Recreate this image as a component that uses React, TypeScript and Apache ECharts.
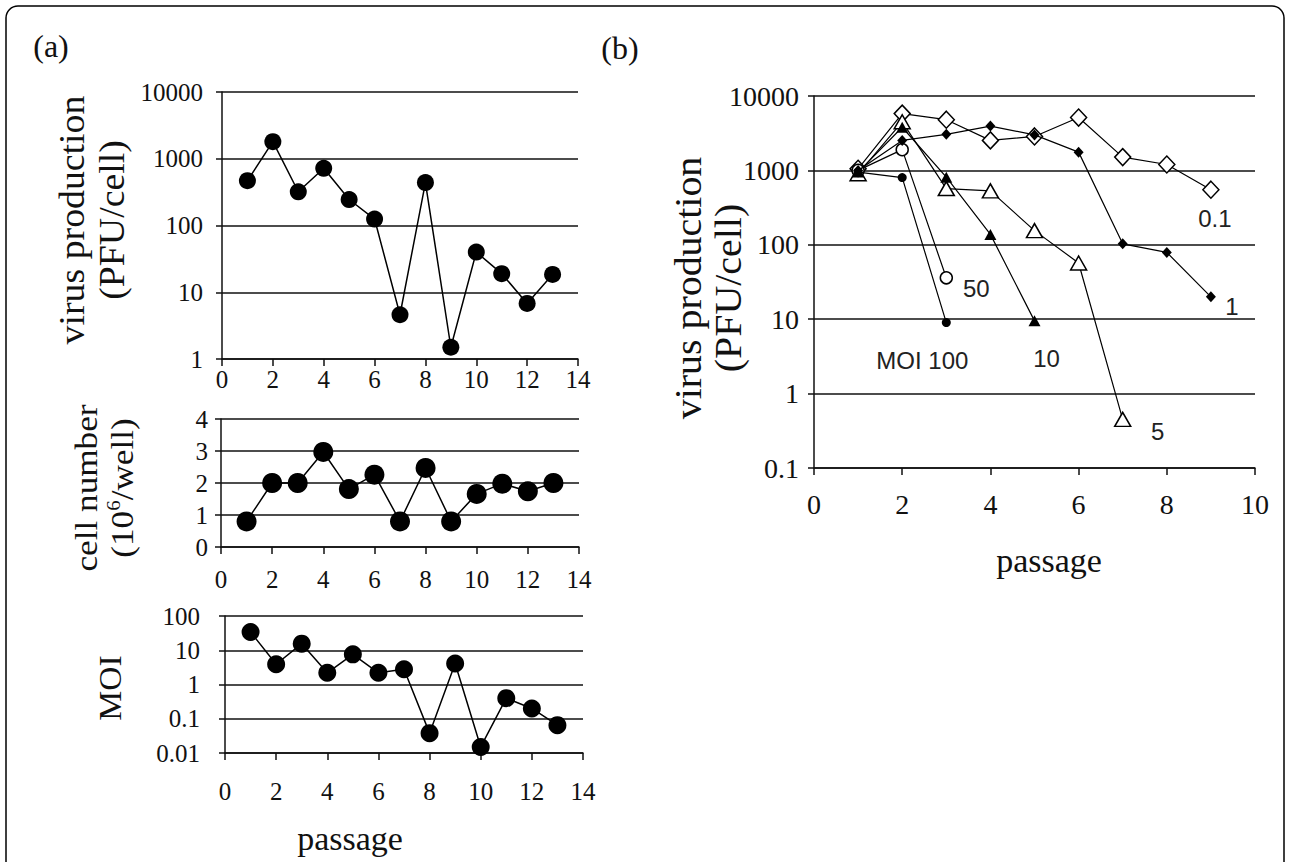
import React, { useEffect, useRef } from "react";
import * as echarts from "echarts";

// ---- Panel (a) data ----
const passageA = [1, 2, 3, 4, 5, 6, 7, 8, 9, 10, 11, 12, 13];
const virusA = [470, 1800, 320, 720, 245, 125, 4.6, 440, 1.5, 40, 19, 6.8, 18.5];
const cellA = [0.8, 2.0, 2.0, 2.97, 1.81, 2.26, 0.8, 2.47, 0.8, 1.66, 1.98, 1.74, 2.0];
const moiA = [34, 3.9, 15.6, 2.2, 7.6, 2.2, 2.8, 0.038, 4.1, 0.015, 0.4, 0.2, 0.065];

// ---- Panel (b) data ----
const passageB = [1, 2, 3, 4, 5, 6, 7, 8, 9];
const moi01 = [1050, 5800, 4800, 2530, 2860, 5130, 1510, 1200, 550];
const moi1 = [1000, 2530, 3050, 3940, 3000, 1760, 103, 79, 20];
const moi5 = [900, 4500, 570, 530, 155, 57, 0.45];
const moi10 = [950, 3800, 810, 138, 9.5];
const moi50 = [1000, 1900, 36];
const moi100 = [950, 800, 9];

const ticksA = ["0", "2", "4", "6", "8", "10", "12", "14"];
const ticksB = ["0", "2", "4", "6", "8", "10"];

const SERIF = "'Liberation Serif', 'Times New Roman', serif";
const SANS = "'Liberation Sans', Arial, sans-serif";
const INK = "#111";

function fmt(v: number) {
  return String(Number(v.toPrecision(6)));
}

function xAxisA(gridIndex: number, margin: number, ticks: string[], max: number, fontSize: number) {
  return {
    type: "value",
    gridIndex,
    min: 0,
    max,
    interval: 2,
    axisLine: { show: true, lineStyle: { color: INK, width: 1.5 } },
    axisTick: { show: true, length: 7, lineStyle: { color: INK, width: 1.5 } },
    axisLabel: {
      margin,
      color: INK,
      fontFamily: SERIF,
      fontSize,
      formatter: (v: number) => ticks[Math.round(v / 2)] ?? "",
    },
    splitLine: { show: false },
  };
}

function yAxisCfg(gridIndex: number, type: string, min: number, max: number, margin: number, fontSize: number, interval?: number) {
  const a: any = {
    type,
    gridIndex,
    min,
    max,
    axisLine: { show: true, lineStyle: { color: INK, width: 1.5 } },
    axisTick: { show: true, length: 6, lineStyle: { color: INK, width: 1.5 } },
    minorTick: { show: false },
    axisLabel: { margin, color: INK, fontFamily: SERIF, fontSize, formatter: fmt },
    splitLine: { show: true, lineStyle: { color: INK, width: 1.5 } },
  };
  if (type === "log") a.logBase = 10;
  if (interval !== undefined) a.interval = interval;
  return a;
}

function pairs(xs: number[], ys: number[]) {
  return ys.map((y, i) => [xs[i], y]);
}

function lastLabeled(xs: number[], ys: number[], text: string, offset: number[]) {
  const d: any[] = pairs(xs, ys);
  const last = d.length - 1;
  d[last] = {
    value: d[last],
    label: {
      show: true,
      formatter: text,
      position: "inside",
      offset,
      align: "center",
      verticalAlign: "middle",
      color: "#222",
      fontFamily: SANS,
      fontSize: 24,
    },
  };
  return d;
}

function rotText(x: number, y: number, text: string, size: number, lineHeight: number, stretch: number, rich?: any) {
  const style: any = {
    text,
    font: `${size}px ${SERIF}`,
    lineHeight,
    fill: INK,
    textAlign: "center",
    textVerticalAlign: "middle",
  };
  if (rich) style.rich = rich;
  return { type: "text", x, y, rotation: Math.PI / 2, scaleX: stretch, scaleY: 1, style };
}

export default function App() {
  const ref = useRef<HTMLDivElement>(null);

  useEffect(() => {
    if (!ref.current) return;
    const chart = echarts.init(ref.current, undefined, { renderer: "svg" });

    const filledA = (size: number) => ({
      symbol: "circle",
      symbolSize: size,
      itemStyle: { color: "#000" },
      lineStyle: { color: "#000", width: 1.5 },
    });

    const open = { color: "#fff", borderColor: "#000", borderWidth: 1.5 };
    const filled = { color: "#000", borderColor: "#000", borderWidth: 0 };
    const lineB = { color: "#000", width: 1.2 };

    const option: any = {
      animation: false,
      backgroundColor: "#fff",
      grid: [
        { left: 222, top: 92, width: 356, height: 267 },
        { left: 221, top: 419, width: 358, height: 128 },
        { left: 225, top: 616, width: 358, height: 137 },
        { left: 814, top: 96, width: 441, height: 372 },
      ],
      xAxis: [
        xAxisA(0, 8, ticksA, 14, 25),
        xAxisA(1, 20, ticksA, 14, 25),
        xAxisA(2, 26, ticksA, 14, 25),
        xAxisA(3, 22, ticksB, 10, 28),
      ],
      yAxis: [
        yAxisCfg(0, "log", 1, 10000, 19, 25),
        yAxisCfg(1, "value", 0, 4, 13, 25, 1),
        yAxisCfg(2, "log", 0.01, 100, 25, 25),
        yAxisCfg(3, "log", 0.1, 10000, 15, 28),
      ],
      series: [
        { type: "line", xAxisIndex: 0, yAxisIndex: 0, data: pairs(passageA, virusA), ...filledA(17) },
        { type: "line", xAxisIndex: 1, yAxisIndex: 1, data: pairs(passageA, cellA), ...filledA(20) },
        { type: "line", xAxisIndex: 2, yAxisIndex: 2, data: pairs(passageA, moiA), ...filledA(18) },
        {
          type: "line", name: "MOI 0.1", xAxisIndex: 3, yAxisIndex: 3, z: 3,
          data: lastLabeled(passageB, moi01, "0.1", [4, 29]),
          symbol: "diamond", symbolSize: [16, 17], itemStyle: open, lineStyle: lineB,
        },
        {
          type: "line", name: "MOI 1", xAxisIndex: 3, yAxisIndex: 3, z: 4,
          data: lastLabeled(passageB, moi1, "1", [21, 10]),
          symbol: "diamond", symbolSize: [10, 11], itemStyle: filled, lineStyle: lineB,
        },
        {
          type: "line", name: "MOI 5", xAxisIndex: 3, yAxisIndex: 3, z: 3,
          data: lastLabeled(passageB, moi5, "5", [35, 12]),
          symbol: "triangle", symbolSize: [16, 14], itemStyle: open, lineStyle: lineB,
        },
        {
          type: "line", name: "MOI 10", xAxisIndex: 3, yAxisIndex: 3, z: 4,
          data: lastLabeled(passageB, moi10, "10", [12, 38]),
          symbol: "triangle", symbolSize: [12, 11], itemStyle: filled, lineStyle: lineB,
        },
        {
          type: "line", name: "MOI 50", xAxisIndex: 3, yAxisIndex: 3, z: 3,
          data: lastLabeled(passageB, moi50, "50", [30, 11]),
          symbol: "circle", symbolSize: 12, itemStyle: open, lineStyle: lineB,
        },
        {
          type: "line", name: "MOI 100", xAxisIndex: 3, yAxisIndex: 3, z: 4,
          data: lastLabeled(passageB, moi100, "MOI 100", [-24, 38]),
          symbol: "circle", symbolSize: 9, itemStyle: filled, lineStyle: lineB,
        },
      ],
      graphic: [
        {
          type: "rect",
          shape: { x: 6, y: 6, width: 1278, height: 880, r: 12 },
          style: { fill: "none", stroke: "#000", lineWidth: 1.5 },
          z: -10,
          silent: true,
        },
        {
          type: "text", x: 51, y: 46,
          style: { text: "(a)", font: `32px ${SERIF}`, fill: INK, textAlign: "center", textVerticalAlign: "middle" },
        },
        {
          type: "text", x: 620, y: 48,
          style: { text: "(b)", font: `32px ${SERIF}`, fill: INK, textAlign: "center", textVerticalAlign: "middle" },
        },
        rotText(92, 220, "virus production\n(PFU/cell)", 36, 40, 1.05),
        rotText(104, 488, "cell number\n(10{sup|6}/well)", 32, 36, 1.1, {
          sup: { fontSize: 19, fontFamily: SERIF, verticalAlign: "top", fill: INK },
        }),
        rotText(110, 688, "MOI", 32, 32, 1.05),
        {
          type: "text", x: 350, y: 838,
          style: { text: "passage", font: `34px ${SERIF}`, fill: INK, textAlign: "center", textVerticalAlign: "middle" },
        },
        rotText(708, 288, "virus production\n(PFU/cell)", 38, 40, 1.05),
        {
          type: "text", x: 1049, y: 560,
          style: { text: "passage", font: `34px ${SERIF}`, fill: INK, textAlign: "center", textVerticalAlign: "middle" },
        },
      ],
    };

    chart.setOption(option);
    return () => chart.dispose();
  }, []);

  return (
    <div
      ref={ref}
      style={{ position: "absolute", left: 0, top: 0, width: 1290, height: 862, background: "#fff" }}
    />
  );
}
